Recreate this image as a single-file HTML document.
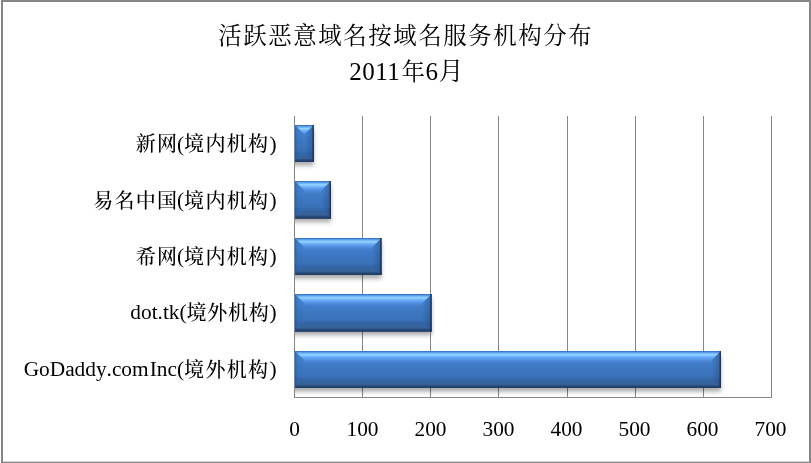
<!DOCTYPE html>
<html lang="zh-CN">
<head>
<meta charset="utf-8">
<title>活跃恶意域名按域名服务机构分布</title>
<style>
  html, body { margin: 0; padding: 0; background: #ffffff; }
  body { width: 811px; height: 463px; overflow: hidden; position: relative; }
  svg { position: absolute; left: 0; top: 0; display: block; }
  text { font-family: "Liberation Serif", "Noto Serif CJK SC", serif; fill: #000; }
  .t1 { font-size: 23.4px; letter-spacing: 1.6px; }
  .t2 .d { font-size: 25px; letter-spacing: 0.5px; }
  .t2 .k { font-size: 23.4px; letter-spacing: 0.6px; }
  .t2 .k2 { font-size: 25px; }
  .cat text { font-size: 21.33px; }
  .cat .l { font-size: 21.33px; }
  .cat .c { font-size: 20px; letter-spacing: 1.33px; font-weight: 500; }
  .val { font-size: 21.33px; }
</style>
</head>
<body>
<svg width="811" height="463" viewBox="0 0 811 463">
  <defs>
    <linearGradient id="barV" x1="0" y1="0" x2="0" y2="1">
      <stop offset="0.0135" stop-color="#3a78c8"/>
      <stop offset="0.0405" stop-color="#5a9ce8"/>
      <stop offset="0.0676" stop-color="#76b8fa"/>
      <stop offset="0.0946" stop-color="#8dd2ff"/>
      <stop offset="0.1216" stop-color="#86c8ff"/>
      <stop offset="0.1486" stop-color="#74b4fa"/>
      <stop offset="0.1757" stop-color="#66a6f4"/>
      <stop offset="0.2027" stop-color="#5c9cec"/>
      <stop offset="0.2297" stop-color="#5494e4"/>
      <stop offset="0.2568" stop-color="#4d8cdc"/>
      <stop offset="0.2838" stop-color="#4886d4"/>
      <stop offset="0.3108" stop-color="#4380ce"/>
      <stop offset="0.3378" stop-color="#407cc8"/>
      <stop offset="0.3919" stop-color="#3e7ac6"/>
      <stop offset="0.6892" stop-color="#3a72b8"/>
      <stop offset="0.7432" stop-color="#3568ac"/>
      <stop offset="0.8243" stop-color="#3364a0"/>
      <stop offset="0.8784" stop-color="#37639a"/>
      <stop offset="0.9054" stop-color="#386196"/>
      <stop offset="0.9324" stop-color="#30568a"/>
      <stop offset="0.9595" stop-color="#24446e"/>
      <stop offset="0.9865" stop-color="#1e3c68"/>
    </linearGradient>
    <linearGradient id="endV" x1="0" y1="0" x2="0" y2="1">
      <stop offset="0" stop-color="#4684d2"/>
      <stop offset="0.25" stop-color="#4280cc"/>
      <stop offset="0.338" stop-color="#407cc8"/>
      <stop offset="0.392" stop-color="#3e7ac6"/>
      <stop offset="0.689" stop-color="#3a72b8"/>
      <stop offset="0.743" stop-color="#366aaf"/>
      <stop offset="1" stop-color="#3262a2"/>
    </linearGradient>
    <linearGradient id="edgeV" x1="0" y1="0" x2="0" y2="1">
      <stop offset="0" stop-color="#3a78c8" stop-opacity="0.7"/>
      <stop offset="0.027" stop-color="#3a78c8" stop-opacity="0.5"/>
      <stop offset="0.04" stop-color="#3a78c8" stop-opacity="0"/>
      <stop offset="0.90" stop-color="#28487a" stop-opacity="0"/>
      <stop offset="0.945" stop-color="#264674" stop-opacity="0.55"/>
      <stop offset="0.96" stop-color="#24446e" stop-opacity="0.9"/>
      <stop offset="1" stop-color="#1e3c68" stop-opacity="1"/>
    </linearGradient>
    <linearGradient id="darkL" x1="0" y1="0" x2="1" y2="0">
      <stop offset="0" stop-color="#1c3f78" stop-opacity="0.45"/>
      <stop offset="0.25" stop-color="#1c3f78" stop-opacity="0.08"/>
      <stop offset="1" stop-color="#1c3f78" stop-opacity="0"/>
    </linearGradient>
    <linearGradient id="darkR" x1="0" y1="0" x2="1" y2="0">
      <stop offset="0" stop-color="#183868" stop-opacity="0"/>
      <stop offset="0.8" stop-color="#183868" stop-opacity="0.3"/>
      <stop offset="1" stop-color="#183868" stop-opacity="0.45"/>
    </linearGradient>
    <clipPath id="plotclip"><rect x="295" y="100" width="500" height="320"/></clipPath>
    <filter id="sh" x="-10%" y="-30%" width="130%" height="170%">
      <feGaussianBlur stdDeviation="2.1"/>
    </filter>
  </defs>

  <!-- background + outer frame -->
  <rect x="0" y="0" width="811" height="463" fill="#ffffff"/>
  <rect x="1" y="0" width="810" height="2" fill="#868686"/>
  <rect x="1" y="0" width="2" height="463" fill="#868686"/>
  <rect x="809" y="0" width="2" height="463" fill="#868686"/>
  <rect x="1" y="461.7" width="810" height="1.3" fill="#868686"/>

  <!-- title -->
  <text class="t1" x="405.8" y="44.3" text-anchor="middle">活跃恶意域名按域名服务机构分布</text>
  <text class="t2" x="349.2" y="80"><tspan class="d">2011</tspan><tspan class="k" dx="1.2">年</tspan><tspan class="d">6</tspan><tspan class="k2">月</tspan></text>

  <!-- gridlines and axes -->
  <g fill="#868686">
    <rect x="294" y="116" width="1" height="282"/>
    <rect x="362" y="116" width="1" height="282"/>
    <rect x="430" y="116" width="1" height="282"/>
    <rect x="498" y="116" width="1" height="282"/>
    <rect x="567" y="116" width="1" height="282"/>
    <rect x="635" y="116" width="1" height="282"/>
    <rect x="703" y="116" width="1" height="282"/>
    <rect x="771" y="116" width="1" height="282"/>
    <rect x="294" y="397" width="478" height="1"/>
  </g>

  <!-- bar shadows -->
  <g clip-path="url(#plotclip)"><g fill="#000" opacity="0.32" filter="url(#sh)">
    <rect x="291" y="128.7" width="22.8" height="37"/>
    <rect x="291" y="184.7" width="39.9" height="37.6"/>
    <rect x="291" y="241.7" width="90.5" height="37"/>
    <rect x="291" y="297.7" width="140.6" height="37.6"/>
    <rect x="291" y="354.7" width="429.9" height="37"/>
  </g></g>

  <!-- bars -->
  <g>
    <rect x="295" y="125" width="18.8" height="37" fill="url(#barV)"/>
    <polygon points="295,125 304.4,134.4 304.4,152.6 295,162" fill="url(#endV)"/>
    <polygon points="295,125 304.4,134.4 304.4,152.6 295,162" fill="url(#darkL)"/>
    <polygon points="313.8,125 304.4,134.4 304.4,152.6 313.8,162" fill="url(#endV)"/>
    <polygon points="313.8,125 304.4,134.4 304.4,152.6 313.8,162" fill="url(#darkR)"/>
    <rect x="295" y="125" width="18.8" height="37" fill="url(#edgeV)"/>
    <rect x="312.5" y="125" width="1.3" height="37" fill="#14305c" opacity="0.9"/>
    <rect x="295" y="181" width="35.9" height="37.6" fill="url(#barV)"/>
    <polygon points="295,181 304.5,190.5 304.5,209.1 295,218.6" fill="url(#endV)"/>
    <polygon points="295,181 304.5,190.5 304.5,209.1 295,218.6" fill="url(#darkL)"/>
    <polygon points="330.9,181 321.4,190.5 321.4,209.1 330.9,218.6" fill="url(#endV)"/>
    <polygon points="330.9,181 321.4,190.5 321.4,209.1 330.9,218.6" fill="url(#darkR)"/>
    <rect x="295" y="181" width="35.9" height="37.6" fill="url(#edgeV)"/>
    <rect x="329.6" y="181" width="1.3" height="37.6" fill="#14305c" opacity="0.9"/>
    <rect x="295" y="238" width="86.5" height="37" fill="url(#barV)"/>
    <polygon points="295,238 304.5,247.5 304.5,265.5 295,275" fill="url(#endV)"/>
    <polygon points="295,238 304.5,247.5 304.5,265.5 295,275" fill="url(#darkL)"/>
    <polygon points="381.5,238 372.0,247.5 372.0,265.5 381.5,275" fill="url(#endV)"/>
    <polygon points="381.5,238 372.0,247.5 372.0,265.5 381.5,275" fill="url(#darkR)"/>
    <rect x="295" y="238" width="86.5" height="37" fill="url(#edgeV)"/>
    <rect x="380.2" y="238" width="1.3" height="37" fill="#14305c" opacity="0.9"/>
    <rect x="295" y="294" width="136.6" height="37.6" fill="url(#barV)"/>
    <polygon points="295,294 304.5,303.5 304.5,322.1 295,331.6" fill="url(#endV)"/>
    <polygon points="295,294 304.5,303.5 304.5,322.1 295,331.6" fill="url(#darkL)"/>
    <polygon points="431.6,294 422.1,303.5 422.1,322.1 431.6,331.6" fill="url(#endV)"/>
    <polygon points="431.6,294 422.1,303.5 422.1,322.1 431.6,331.6" fill="url(#darkR)"/>
    <rect x="295" y="294" width="136.6" height="37.6" fill="url(#edgeV)"/>
    <rect x="430.3" y="294" width="1.3" height="37.6" fill="#14305c" opacity="0.9"/>
    <rect x="295" y="351" width="425.9" height="37" fill="url(#barV)"/>
    <polygon points="295,351 304.5,360.5 304.5,378.5 295,388" fill="url(#endV)"/>
    <polygon points="295,351 304.5,360.5 304.5,378.5 295,388" fill="url(#darkL)"/>
    <polygon points="720.9,351 711.4,360.5 711.4,378.5 720.9,388" fill="url(#endV)"/>
    <polygon points="720.9,351 711.4,360.5 711.4,378.5 720.9,388" fill="url(#darkR)"/>
    <rect x="295" y="351" width="425.9" height="37" fill="url(#edgeV)"/>
    <rect x="719.6" y="351" width="1.3" height="37" fill="#14305c" opacity="0.9"/>
  </g>

  <!-- category labels -->
  <g class="cat">
    <text x="276.5" y="150.5" text-anchor="end"><tspan class="c" dy="0.8">新网</tspan><tspan class="l" dy="-0.8" dx="-1.5">(</tspan><tspan class="c" dy="0.8">境内机构</tspan><tspan class="l" dy="-0.8">)</tspan></text>
    <text x="276.5" y="206.8" text-anchor="end"><tspan class="c" dy="0.8">易名中国</tspan><tspan class="l" dy="-0.8" dx="-1.5">(</tspan><tspan class="c" dy="0.8">境内机构</tspan><tspan class="l" dy="-0.8">)</tspan></text>
    <text x="276.5" y="263.1" text-anchor="end"><tspan class="c" dy="0.8">希网</tspan><tspan class="l" dy="-0.8" dx="-1.5">(</tspan><tspan class="c" dy="0.8">境内机构</tspan><tspan class="l" dy="-0.8">)</tspan></text>
    <text x="276.5" y="319.4" text-anchor="end"><tspan class="l">dot.tk(</tspan><tspan class="c" style="letter-spacing:0.7px" dy="0.8">境外机构</tspan><tspan class="l" dy="-0.8">)</tspan></text>
    <text x="276.5" y="375.7" text-anchor="end"><tspan class="l">GoDaddy</tspan><tspan class="l" dx="1.2">.</tspan><tspan class="l" dx="0.1">com</tspan><tspan class="l" dx="1.1">Inc</tspan><tspan class="l">(</tspan><tspan class="c" dy="0.8">境外机构</tspan><tspan class="l" dy="-0.8">)</tspan></text>
  </g>

  <!-- value axis labels -->
  <g class="val" text-anchor="middle">
    <text x="294.5" y="436.3">0</text>
    <text x="362.5" y="436.3">100</text>
    <text x="430.5" y="436.3">200</text>
    <text x="498.5" y="436.3">300</text>
    <text x="566.5" y="436.3">400</text>
    <text x="634.5" y="436.3">500</text>
    <text x="702.5" y="436.3">600</text>
    <text x="770.5" y="436.3">700</text>
  </g>
</svg>
</body>
</html>
